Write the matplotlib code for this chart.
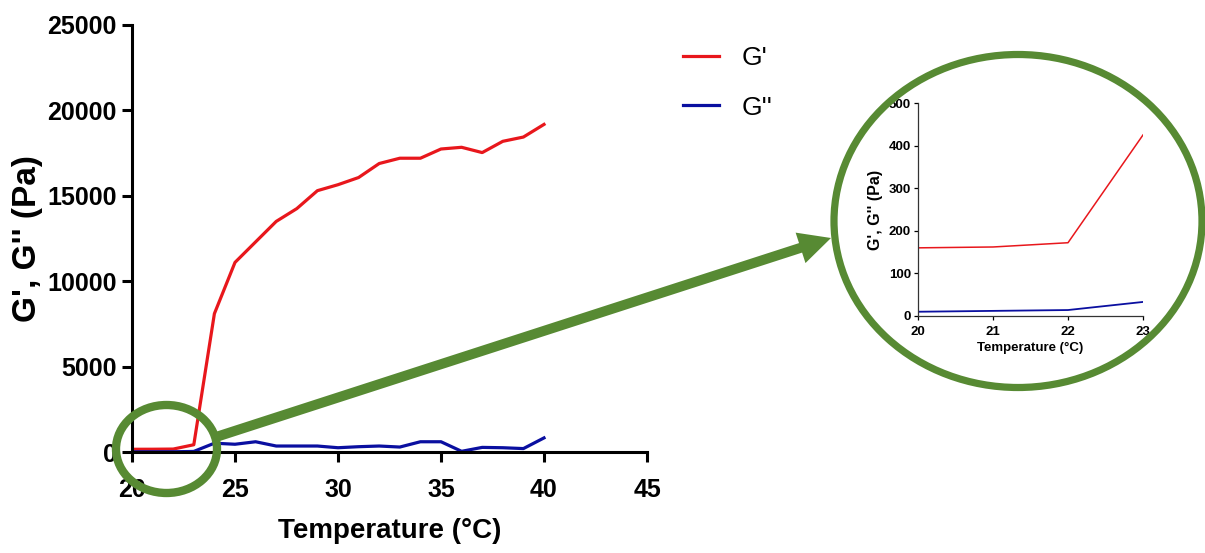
import matplotlib
matplotlib.use("Agg")
import matplotlib.pyplot as plt
from matplotlib.patches import Ellipse, FancyArrow

plt.rcParams['font.family'] = ['Liberation Sans', 'DejaVu Sans']

# ---- data ----
temperature = [20, 21, 22, 23, 24, 25, 26, 27, 28, 29, 30,
               31, 32, 33, 34, 35, 36, 37, 38, 39, 40]
g_prime = [160, 162, 172, 425, 8100, 11100, 12300, 13500, 14250, 15300, 15650,
           16070, 16890, 17200, 17200, 17740, 17840, 17530, 18190, 18440, 19180]
g_double_prime = [10, 12, 14, 33, 515, 454, 600, 350, 350, 350, 250,
                  310, 350, 290, 600, 600, 40, 270, 250, 200, 825]

inset_temperature = temperature[:4]
inset_g_prime = g_prime[:4]
inset_g_double_prime = g_double_prime[:4]

main_xticks = [20, 25, 30, 35, 40, 45]
main_yticks = [0, 5000, 10000, 15000, 20000, 25000]
inset_xticks = [20, 21, 22, 23]
inset_yticks = [0, 100, 200, 300, 400, 500]

RED = '#e8171c'
BLUE = '#0a0fa0'
GREEN = '#578a33'

W, H = 1205, 553
fig = plt.figure(figsize=(W / 100, H / 100), dpi=100)

def px_axes(x0, x1, y_top, y_bottom, **kw):
    return fig.add_axes([x0 / W, 1 - y_bottom / H, (x1 - x0) / W, (y_bottom - y_top) / H], **kw)

# ---- main axes ----
ax = px_axes(132, 647, 25, 452)
ax.plot(temperature, g_prime, color=RED, lw=2.3, label="G'")
ax.plot(temperature, g_double_prime, color=BLUE, lw=2.3, label="G''")
ax.set_xlim(20, 45)
ax.set_ylim(0, 25000)
ax.set_xticks(main_xticks)
ax.set_yticks(main_yticks)
for s in ['top', 'right']:
    ax.spines[s].set_visible(False)
for s in ['left', 'bottom']:
    ax.spines[s].set_linewidth(2.2)
ax.tick_params(width=2.2, length=7, direction='out', labelsize=18, pad=4)
ax.tick_params(axis='x', pad=12)
for t in ax.get_xticklabels() + ax.get_yticklabels():
    t.set_fontweight('bold')
ax.set_xlabel('Temperature (°C)', fontsize=20, fontweight='bold', labelpad=11)
ax.set_ylabel("G', G'' (Pa)", fontsize=24, fontweight='bold', labelpad=3)
ax.patch.set_alpha(0)

leg = fig.legend(handles=ax.get_lines(), loc='upper left',
                 bbox_to_anchor=(659 / W, 1 - 22 / H), frameon=False,
                 fontsize=19, handlelength=1.36, handletextpad=0.87,
                 labelspacing=0.98)

# ---- inset axes ----
ia = px_axes(918, 1143, 103, 316)
ia.plot(inset_temperature, inset_g_prime, color=RED, lw=1.1)
ia.plot(inset_temperature, inset_g_double_prime, color=BLUE, lw=1.3)
ia.set_xlim(20, 23)
ia.set_ylim(0, 500)
ia.set_xticks(inset_xticks)
ia.set_yticks(inset_yticks)
for s in ['top', 'right']:
    ia.spines[s].set_visible(False)
for s in ['left', 'bottom']:
    ia.spines[s].set_linewidth(0.9)
    ia.spines[s].set_color('#333333')
ia.tick_params(width=0.9, length=3, labelsize=9.5, pad=2)
ia.tick_params(axis='x', pad=4)
for t in ia.get_xticklabels() + ia.get_yticklabels():
    t.set_fontweight('bold')
ia.set_xlabel('Temperature (°C)', fontsize=9.5, fontweight='bold', labelpad=3)
ia.set_ylabel("G', G'' (Pa)", fontsize=11.5, fontweight='bold', labelpad=4)
ia.patch.set_alpha(0)

# ---- overlay (pixel coordinates) ----
ov = fig.add_axes([0, 0, 1, 1], zorder=5)
ov.set_xlim(0, W)
ov.set_ylim(H, 0)
ov.axis('off')
ov.patch.set_alpha(0)

ov.add_patch(Ellipse((166.5, 449), 101, 88, fill=False, ec=GREEN, lw=6))
ov.add_patch(Ellipse((1018, 221), 368, 333, fill=False, ec=GREEN, lw=5.2))
x0, y0, x1, y1 = 216, 437, 831, 238
ov.add_patch(FancyArrow(x0, y0, x1 - x0, y1 - y0, width=10, head_width=32,
                        head_length=32, length_includes_head=True,
                        color=GREEN, lw=0))

fig.savefig('out.png', dpi=100)
